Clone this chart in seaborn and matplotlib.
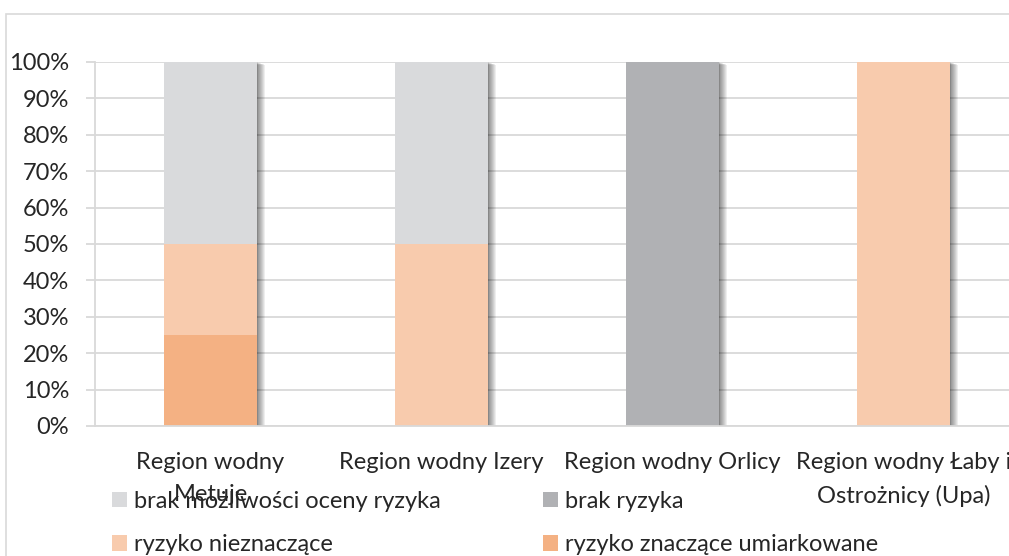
import matplotlib
matplotlib.use("Agg")
import matplotlib.pyplot as plt
import matplotlib.patheffects as pe
from matplotlib.patches import Patch, Rectangle
import seaborn as sns
import pandas as pd

# ---- data ----
categories = ["Region wodny Metuje", "Region wodny Izery", "Region wodny Orlicy",
              "Region wodny Łaby i Ostrożnicy (Upa)"]
tick_labels = ["Region wodny\nMetuje", "Region wodny Izery", "Region wodny Orlicy",
               "Region wodny Łaby i\nOstrożnicy (Upa)"]
series_names = ["ryzyko znaczące umiarkowane", "ryzyko nieznaczące", "brak ryzyka",
                "brak możliwości oceny ryzyka"]  # bottom -> top
znaczace = [25, 0, 0, 0]
nieznaczace = [25, 50, 0, 100]
brak_ryzyka = [0, 0, 100, 0]
brak_mozliwosci = [50, 50, 0, 0]
y_ticks = [0, 10, 20, 30, 40, 50, 60, 70, 80, 90, 100]

colors = {
    "ryzyko znaczące umiarkowane": "#F4B183",
    "ryzyko nieznaczące": "#F8CBAD",
    "brak ryzyka": "#B0B1B4",
    "brak możliwości oceny ryzyka": "#D9DADC",
}

sns.set_theme(style="white")
plt.rcParams["font.family"] = ["Lato", "DejaVu Sans"]
TXT = "#262626"
GRID = "#D9D9D9"
FS = 17

W, H = 1009, 556
fig = plt.figure(figsize=(W / 100, H / 100), dpi=100)

# chart-area frame
fig.patches.append(Rectangle((6 / W, -0.1), 1.2, 1 - 14 / H + 0.1, transform=fig.transFigure,
                             fill=False, edgecolor=GRID, linewidth=1.2))

ax_left, ax_right = 95, 1019
ax_top, ax_bottom = 62, 426
ax = fig.add_axes([ax_left / W, 1 - ax_bottom / H, (ax_right - ax_left) / W,
                   (ax_bottom - ax_top) / H])

df = pd.DataFrame({"kategoria": categories,
                   series_names[0]: znaczace,
                   series_names[1]: nieznaczace,
                   series_names[2]: brak_ryzyka,
                   series_names[3]: brak_mozliwosci})

# cumulative layers drawn from the top series down
cum = df[series_names].cumsum(axis=1)
shadow = [pe.SimplePatchShadow(offset=(o, -o * 0.3), shadow_rgbFace="#000000", alpha=0.065)
          for o in [6.0, 5.2, 4.4, 3.7, 3.0, 2.4, 1.8, 1.2, 0.7]] + [pe.Normal()]
for i, name in enumerate(reversed(series_names)):
    before = len(ax.patches)
    sns.barplot(x=df["kategoria"], y=cum[name], order=categories, color=colors[name],
                saturation=1, width=0.4, errorbar=None, ax=ax, linewidth=0)
    if i == 0:
        for p in ax.patches[before:]:
            p.set_path_effects(shadow)

ax.set_xlim(-0.5, 3.5)
ax.set_ylim(0, 100)
ax.set_yticks(y_ticks)
ax.set_yticklabels([f"{v}%" for v in y_ticks])
ax.set_xticks(range(len(categories)))
ax.set_xticklabels(tick_labels, linespacing=1.65)
ax.set_xlabel("")
ax.set_ylabel("")
ax.yaxis.grid(True, color=GRID, linewidth=1.3)
ax.set_axisbelow(True)
for s in ["top", "right"]:
    ax.spines[s].set_visible(False)
for s in ["left", "bottom"]:
    ax.spines[s].set_color(GRID)
    ax.spines[s].set_linewidth(1.3)
ax.tick_params(axis="y", left=True, length=6.5, width=1.3, color=GRID, pad=12,
               labelsize=FS, labelcolor=TXT)
ax.tick_params(axis="x", bottom=False, length=0, pad=18.5, labelsize=FS, labelcolor=TXT)

# legends (two columns)
col1 = ["brak możliwości oceny ryzyka", "ryzyko nieznaczące"]
col2 = ["brak ryzyka", "ryzyko znaczące umiarkowane"]
for names, x in [(col1, 112), (col2, 543)]:
    handles = [Patch(facecolor=colors[n], edgecolor="none", label=n) for n in names]
    leg = fig.legend(handles=handles, loc="upper left", bbox_to_anchor=(x / W, 1 - 491 / H),
                     frameon=False, fontsize=FS, borderpad=0, borderaxespad=0,
                     handlelength=0.63, handleheight=0.63, handletextpad=0.3,
                     labelspacing=0.95)
    for t in leg.get_texts():
        t.set_color(TXT)

fig.savefig("out.png", dpi=100)
